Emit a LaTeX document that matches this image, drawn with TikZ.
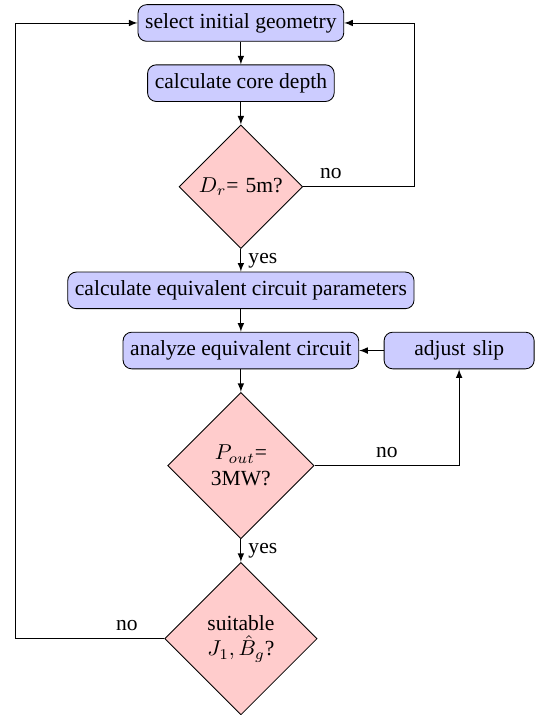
\documentclass[tikz,border=0pt]{standalone}
\usepackage{amsmath}
\usepackage{fontspec}
\setmainfont{Liberation Serif}
\usetikzlibrary{shapes.geometric,positioning}

\begin{document}
\begin{tikzpicture}[node distance=0.37cm, >=latex,
	block/.style={rectangle, draw, fill=blue!20, rounded corners, minimum height=1.7em},
	decision/.style={diamond, draw, fill=red!20, text width=4.5em, align=center, inner sep=1pt}]
	%\draw[help lines] (-4,-12) grid (5,1);
	\useasboundingbox (-3.93,0.375) rectangle (4.83,-11.29);
	\node [block] (init) at (0,0) {select initial geometry};
	\node [block, below=of init] (depth) {calculate core depth};
	\node [decision, below=of depth] (chkdepth) {$D_r$= 5m?};
	\node [block, below=of chkdepth] (params) {calculate equivalent circuit parameters};
	\node [block, below=of params] (analyze) {analyze equivalent circuit};
	\node [block, right=0.4cm of analyze, text width=6.3em, align=center] (slip) {adjust slip};
	\node [decision, below=of analyze] (chkpower) {$P_{out}$= 3MW?};
	\node [decision, below=of chkpower] (chkfit) {suitable $J_1, \hat{B}_g$?};
	\coordinate (back) at ([xshift=-0.85cm]params.west);
	\draw[->] (init) -- (depth);
	\draw[->] (depth) -- (chkdepth);
	\draw[->] (chkdepth) -- node [right] {yes} (params);
	\draw[->] (chkdepth.east) -- node [above, near start] {no} (chkdepth.east -| params.east) |- (init.east);
	\draw[->] (params) -- (analyze);
	\draw[->] (analyze) -- (chkpower);
	\draw[->] (slip) -- (analyze);
	\draw[->] (chkpower) -| node [above, near start] {no} (slip);
	\draw[->] (chkpower) -- node [right] {yes} (chkfit);
	\draw[->] (chkfit.west) -- node [above, near start] {no} (chkfit.west -| back) |- (init.west);
\end{tikzpicture}
\end{document}
